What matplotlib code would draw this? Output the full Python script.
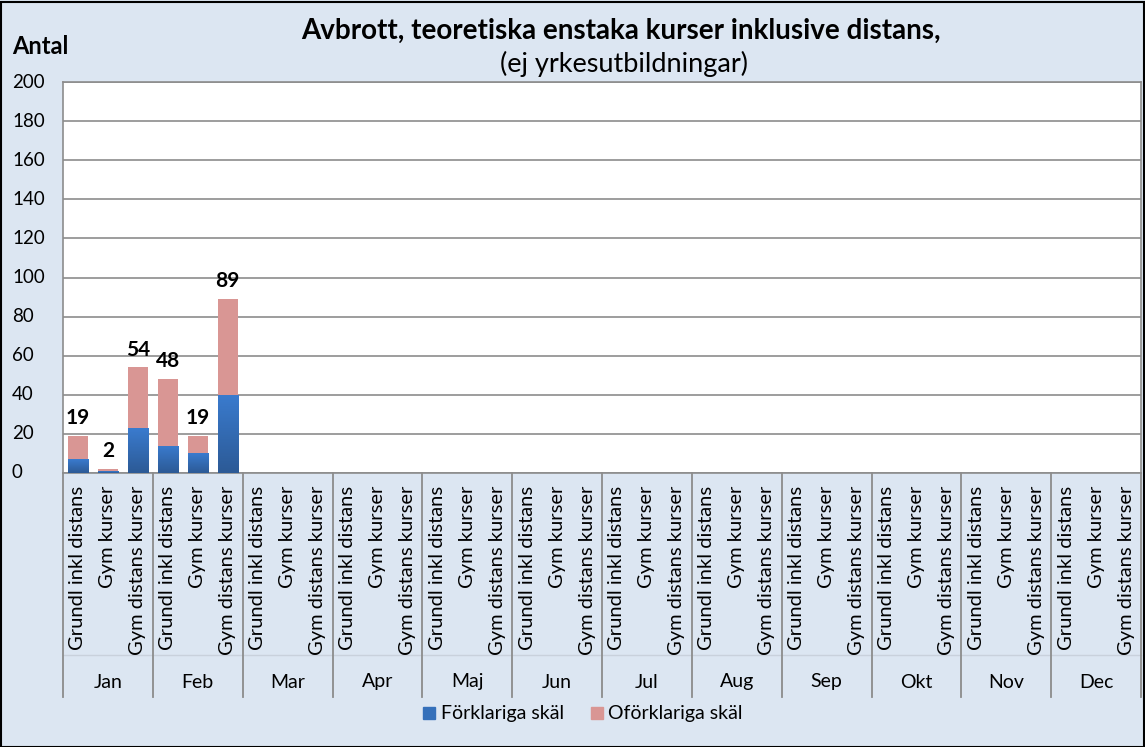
import matplotlib
matplotlib.use("Agg")
import matplotlib.pyplot as plt
import numpy as np
from matplotlib.lines import Line2D
from matplotlib.patches import Rectangle
from matplotlib.colors import LinearSegmentedColormap

months = ["Jan", "Feb", "Mar", "Apr", "Maj", "Jun", "Jul", "Aug", "Sep", "Okt", "Nov", "Dec"]
subcats = ["Grundl inkl distans", "Gym kurser", "Gym distans kurser"]
forklariga = [7, 1, 23, 14, 10, 40]
oforklariga = [12, 1, 31, 34, 9, 49]
totals = [19, 2, 54, 48, 19, 89]

plt.rcParams['font.family'] = ['Lato', 'DejaVu Sans']
W, H = 1145, 747
fig = plt.figure(figsize=(W / 100, H / 100), dpi=100)
fig.patch.set_facecolor('#DCE6F2')
fig.patches.append(Rectangle((0.5 / W, 0.5 / H), 1 - 2 / W, 1 - 2 / H, transform=fig.transFigure,
                             fill=False, edgecolor='#000000', linewidth=1.5))

x0, x1, y0, y1 = 63, 1141, 82, 473
ax = fig.add_axes([x0 / W, 1 - y1 / H, (x1 - x0) / W, (y1 - y0) / H])
ax.set_facecolor('white')

n = len(months) * len(subcats)
xs = list(range(len(forklariga)))
ax.set_xlim(-0.5, n - 0.5)
ax.set_ylim(0, 200)

blue_bars = ax.bar(xs, forklariga, width=0.68, color='#3570BA', zorder=3)
ax.bar(xs, oforklariga, bottom=forklariga, width=0.68, color='#D99694', zorder=3)
cmap = LinearSegmentedColormap.from_list('bg', ['#2C5A96', '#3A7BCE'])
grad = np.linspace(0, 1, 64).reshape(-1, 1)
for b in blue_bars:
    im = ax.imshow(grad, cmap=cmap, aspect='auto', origin='lower',
                   extent=[b.get_x(), b.get_x() + b.get_width(), 0, b.get_height()], zorder=3.5)
    im.set_clip_path(b)
ax.set_xlim(-0.5, n - 0.5)
ax.set_ylim(0, 200)

for x, t in zip(xs, totals):
    ax.text(x, t + 4, str(t), ha='center', va='bottom', fontsize=15, fontweight='bold')

ax.set_yticks(range(0, 201, 20))
ax.yaxis.grid(True, color='#8C8C8C', linewidth=1.2)
ax.set_axisbelow(True)
ax.tick_params(axis='y', length=0, labelleft=False)
ax.set_xticks([])
for s in ax.spines.values():
    s.set_color('#8C8C8C')
    s.set_linewidth(1.2)

for v in range(0, 201, 20):
    ax.text(-51 / (x1 - x0), v, str(v), ha='left', va='center', fontsize=13.5,
            transform=ax.get_yaxis_transform(), clip_on=False)

# category labels
trans = ax.get_xaxis_transform()
axh = y1 - y0
for i in range(n):
    ax.text(i, -(486 - y1) / axh, subcats[i % 3], rotation=90, ha='center', va='top', fontsize=14.5,
            transform=trans, clip_on=False)
ax.add_line(Line2D([-0.5, n - 0.5], [-(655 - y1) / axh] * 2, transform=trans, color='#C9D1DC',
                   linewidth=1, clip_on=False))
for m in range(len(months) + 1):
    xb = m * 3 - 0.5
    ax.add_line(Line2D([xb, xb], [0, -(697 - y1) / axh], transform=trans, color='#8C8C8C',
                       linewidth=1.3, clip_on=False))
for m, name in enumerate(months):
    ax.text(m * 3 + 1, -(682 - y1) / axh, name, ha='center', va='center', fontsize=14,
            transform=trans, clip_on=False)

fig.text(621 / W, 1 - 31 / H, "Avbrott, teoretiska enstaka kurser inklusive distans,", ha='center',
         va='center', fontsize=20, fontweight='bold')
fig.text(624 / W, 1 - 64 / H, "(ej yrkesutbildningar)", ha='center', va='center', fontsize=19.5)
fig.text(12 / W, 1 - 46 / H, "Antal", ha='left', va='center', fontsize=17, fontweight='bold')

# legend
fig.patches.append(Rectangle((423 / W, 1 - 719 / H), 12 / W, 12 / H, transform=fig.transFigure,
                             color='#3570BA'))
fig.text(441 / W, 1 - 713 / H, "Förklariga skäl", ha='left', va='center', fontsize=14)
fig.patches.append(Rectangle((591 / W, 1 - 719 / H), 12 / W, 12 / H, transform=fig.transFigure,
                             color='#D99694'))
fig.text(608 / W, 1 - 713 / H, "Oförklariga skäl", ha='left', va='center', fontsize=14)

fig.savefig("out.png", dpi=100, facecolor=fig.get_facecolor())
